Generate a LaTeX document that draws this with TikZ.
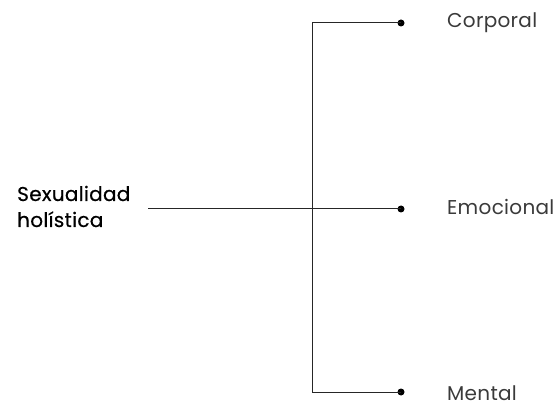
\documentclass[tikz,border=0pt]{standalone}
\usepackage{fontspec}
\setmainfont{Poppins}
\definecolor{labelgray}{HTML}{3A3A3A}
\begin{document}
\begin{tikzpicture}[x=1pt,y=-1pt,
  conn/.style={draw=black!85, line width=1pt},
  branchdot/.style={circle, fill=black, inner sep=0pt, minimum size=7pt},
  rlabel/.style={anchor=base west, text=labelgray, font=\fontsize{20}{24}\selectfont\addfontfeatures{LetterSpace=1.5}, inner sep=0pt},
  llabel/.style={anchor=base west, text=black, align=left, font=\fontsize{20}{26}\selectfont\addfontfeatures{FakeBold=0.4,LetterSpace=1.5}, inner sep=0pt}]
\useasboundingbox (0,0) rectangle (560,406);
\node[llabel] (src) at (17,227) {Sexualidad\\holística};
\coordinate (start) at (148,209);
\coordinate (jtop) at (312,23);
\coordinate (jmid) at (312,209);
\coordinate (jbot) at (312,392);
\node[branchdot] (d1) at (401,23) {};
\node[branchdot] (d2) at (401,209) {};
\node[branchdot] (d3) at (401,392) {};
\node[rlabel] (l1) at (447,28) {Corporal};
\node[rlabel] (l2) at (447,215) {Emocional};
\node[rlabel] (l3) at (447,400) {Mental};
\draw[conn] (start) -- (d2.center);
\draw[conn] (d1.center) -- (jtop) -- (jbot) -- (d3.center);
\end{tikzpicture}
\end{document}
